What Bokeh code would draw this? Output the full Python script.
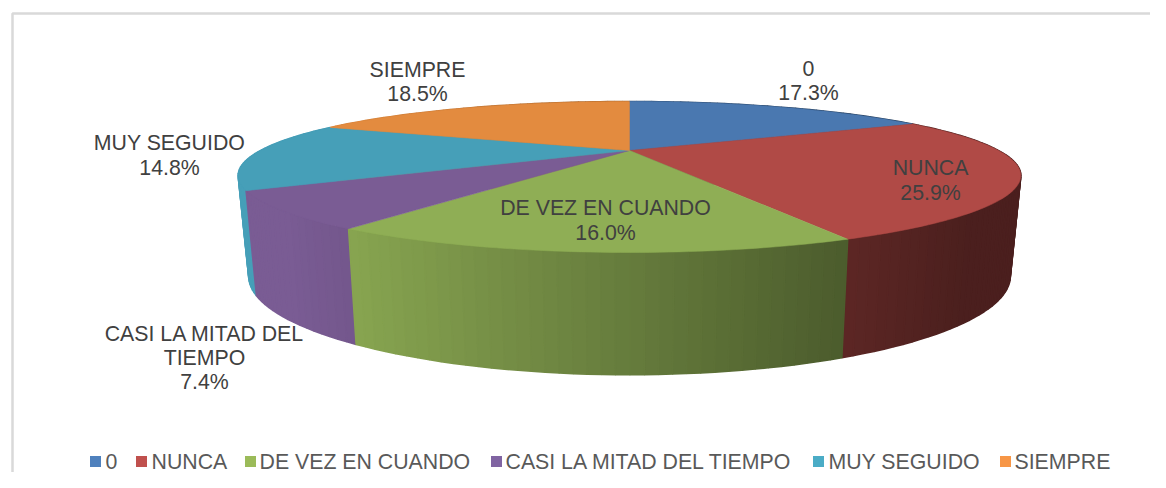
import math
from bokeh.plotting import figure
from bokeh.embed import file_html
from bokeh.resources import INLINE
from bokeh.core.properties import value

categories = ["0", "NUNCA", "DE VEZ EN CUANDO", "CASI LA MITAD DEL TIEMPO", "MUY SEGUIDO", "SIEMPRE"]
shares = [17.3, 25.9, 16.0, 7.4, 14.8, 18.5]
top_colors = ["#4A78B0", "#B04A46", "#8FAE55", "#7A5C94", "#469FB8", "#E38B3F"]
legend_colors = ["#4F81BD", "#C0504D", "#9BBB59", "#8064A2", "#4BACC6", "#F79646"]

FONT = "Liberation Sans"
CX, CY, A, B, KX, KY = 629.0, 150.0, 369.0, 66.2, 0.333, 0.351
SX, BY, BB = 0.973, 244.0, 84.5
WIDTH, HEIGHT = 1150, 472


def top_pt(t):
    return (CX + A * math.sin(t) / (1 + KX * math.cos(t)),
            CY - B * math.cos(t) / (1 + KY * math.cos(t)))


def bottom_pt(t):
    return (CX + SX * A * math.sin(t) / (1 + KX * math.cos(t)),
            BY - BB * math.cos(t) / (1 + KY * math.cos(t)))


def shade(hex_color, x):
    f = min(1.0, max(0.43, 0.95 - (x - 348) * 0.00084))
    r, g, b = (int(hex_color[i:i + 2], 16) for i in (1, 3, 5))
    return "#%02x%02x%02x" % (int(r * f), int(g * f), int(b * f))


p = figure(width=WIDTH, height=HEIGHT, x_range=(0, WIDTH), y_range=(HEIGHT, 0),
           output_backend="svg", toolbar_location=None, min_border=0,
           background_fill_color="white", outline_line_color=None)
p.axis.visible = False
p.grid.visible = False

# chart frame
p.line([WIDTH, 12, 12], [13, 13, HEIGHT], line_color="#D9D9D9", line_width=2.5)

total = sum(shares)
edges = [0.0]
for v in shares:
    edges.append(edges[-1] + v / total * 2 * math.pi)

# side strips, painted back to front
strips = []
for i, col in enumerate(top_colors):
    t0, t1 = edges[i], edges[i + 1]
    n = max(3, int((t1 - t0) / math.radians(1.5)))
    for j in range(n):
        a0 = t0 + (t1 - t0) * j / n
        a1 = t0 + (t1 - t0) * (j + 1) / n
        p0, p1, q1, q0 = top_pt(a0), top_pt(a1), bottom_pt(a1), bottom_pt(a0)
        strips.append((-math.cos((a0 + a1) / 2), [p0[0], p1[0], q1[0], q0[0]],
                       [p0[1], p1[1], q1[1], q0[1]], shade(col, (p0[0] + p1[0]) / 2)))
strips.sort(key=lambda s: s[0])
p.patches([s[1] for s in strips], [s[2] for s in strips],
          fill_color=[s[3] for s in strips], line_color=[s[3] for s in strips], line_width=1.6)

# top faces
for i, col in enumerate(top_colors):
    t0, t1 = edges[i], edges[i + 1]
    n = max(8, int((t1 - t0) / math.radians(1)))
    pts = [top_pt(t0 + (t1 - t0) * j / n) for j in range(n + 1)]
    p.patch([CX] + [q[0] for q in pts], [CY] + [q[1] for q in pts],
            fill_color=col, line_color=col, line_width=0.5)

# data labels
pct = [f"{v:.1f}%" for v in shares]
lab_x = [808, 808, 417, 417, 930, 930, 605, 605, 169, 169, 204, 204, 204]
lab_y = [68, 92, 69, 93, 167, 192, 207, 232, 142, 167, 333, 357, 381]
lab_t = [categories[0], pct[0], categories[5], pct[5], categories[1], pct[1],
         categories[2], pct[2], categories[4], pct[4], "CASI LA MITAD DEL", "TIEMPO", pct[3]]
p.text(lab_x, lab_y, text=lab_t, text_font=value(FONT), text_font_size="21.3px",
       text_color="#404040", text_align="center", text_baseline="middle")

# legend
sq_x = [95, 141, 250, 496, 818, 1005]
tx_x = [105, 151, 259, 505, 828, 1014]
p.rect(sq_x, [461] * 6, width=11, height=11, fill_color=legend_colors, line_color=None)
p.text(tx_x, [461] * 6, text=categories, text_font=value(FONT), text_font_size="21.3px",
       text_color="#595959", text_align="left", text_baseline="middle")

open("out.html", "w").write(file_html(p, INLINE))
